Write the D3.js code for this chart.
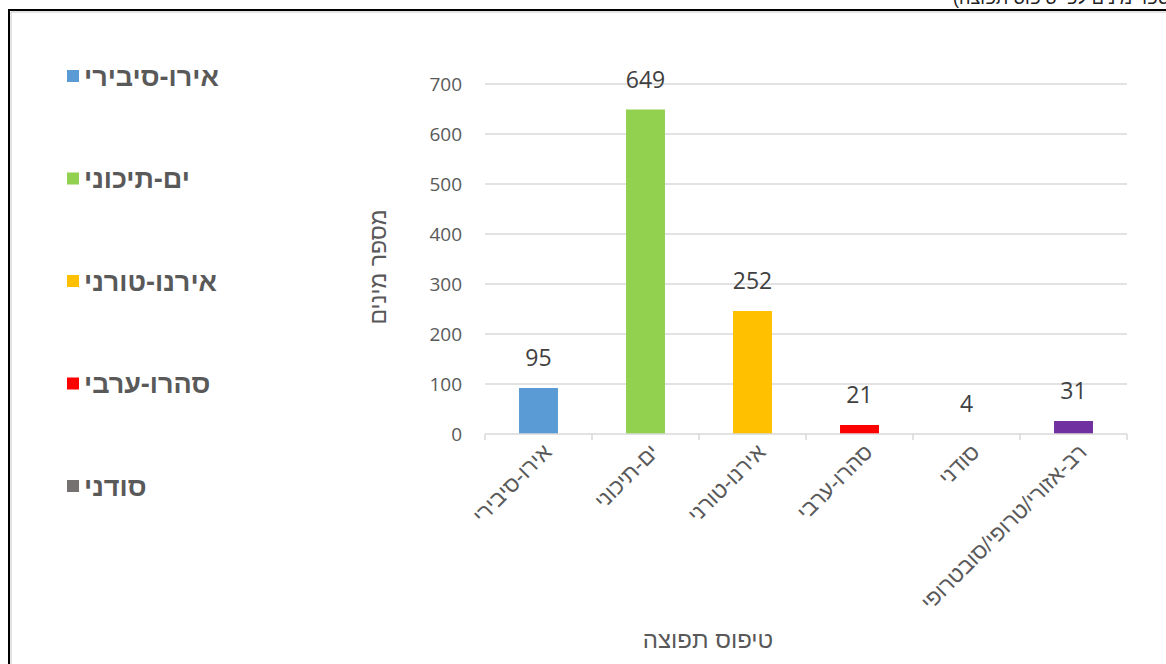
<!DOCTYPE html>
<html lang="he">
<head>
<meta charset="utf-8">
<script src="https://cdn.jsdelivr.net/npm/d3@7/dist/d3.min.js"></script>
<style>
  html, body { margin: 0; padding: 0; background: #fff; overflow: hidden; }
  svg { display: block; }
</style>
</head>
<body>
<svg id="chart" width="1166" height="664"></svg>
<script>
// ---- data ----
const categories = ["אירו-סיבירי", "ים-תיכוני", "אירנו-טורני", "סהרו-ערבי", "סודני", "רב-אזורי/טרופי/סובטרופי"];
const barValues = [92, 649, 246, 18, 0, 26];
const labelValues = [95, 649, 252, 21, 4, 31];
const colors = ["#5B9BD5", "#92D050", "#FFC000", "#FF0000", "#767171", "#7030A0"];
const yTicks = [0, 100, 200, 300, 400, 500, 600, 700];
const legendItems = categories.slice(0, 5);
const yTitle = "מספר מינים";
const xTitle = "טיפוס תפוצה";
const topNote = "(מספר מינים לפי טיפוס תפוצה)";

// ---- drawing ----
const svg = d3.select("#chart");
const numFont = "'Open Sans', 'Liberation Sans', sans-serif";
const hebFont = "'Liberation Sans', 'DejaVu Sans', sans-serif";
const grey = "#595959";

svg.append("rect").attr("width", 1166).attr("height", 664).attr("fill", "#fff");

// clipped note above the frame (only its lower edge is visible, as in the source)
svg.append("text").attr("x", 953).attr("y", 4)
  .attr("font-family", hebFont).attr("font-size", 18).attr("fill", "#222")
  .text(topNote);

// frame
svg.append("path").attr("d", "M11,670 L11,12 L1172,12")
  .attr("fill", "none").attr("stroke", "#c8c8c8").attr("stroke-width", 1);
svg.append("path").attr("d", "M9,670 L9,10 L1172,10")
  .attr("fill", "none").attr("stroke", "#000").attr("stroke-width", 2);

const x = d3.scaleBand().domain(categories).range([485, 1127])
  .paddingInner(0.636).paddingOuter(0.318);
const y = d3.scaleLinear().domain([0, 700]).range([434, 84]);

// gridlines
svg.append("g").selectAll("line").data(yTicks.filter(d => d > 0)).join("line")
  .attr("x1", 485).attr("x2", 1127)
  .attr("y1", d => y(d)).attr("y2", d => y(d))
  .attr("stroke", "#d9d9d9").attr("stroke-width", 1.5);

// y tick labels
svg.append("g").selectAll("text").data(yTicks).join("text")
  .attr("x", 462).attr("y", d => y(d)).attr("dy", "0.36em")
  .attr("text-anchor", "end")
  .attr("font-family", numFont).attr("font-size", 19).attr("fill", grey)
  .text(d => d);

// bars
svg.append("g").selectAll("rect").data(categories).join("rect")
  .attr("x", d => x(d)).attr("width", x.bandwidth())
  .attr("y", (d, i) => y(barValues[i]))
  .attr("height", (d, i) => y(0) - y(barValues[i]))
  .attr("fill", (d, i) => colors[i]);

// x axis line + ticks
const step = x.step();
const boundaries = d3.range(categories.length + 1).map(i => 485 + i * step);
svg.append("line").attr("x1", 485).attr("x2", 1127).attr("y1", y(0)).attr("y2", y(0))
  .attr("stroke", "#d9d9d9").attr("stroke-width", 1.5);
svg.append("g").selectAll("line").data(boundaries).join("line")
  .attr("x1", d => d).attr("x2", d => d).attr("y1", y(0)).attr("y2", y(0) + 6)
  .attr("stroke", "#d9d9d9").attr("stroke-width", 1.5);

// data labels
svg.append("g").selectAll("text").data(categories).join("text")
  .attr("x", d => x(d) + x.bandwidth() / 2)
  .attr("y", (d, i) => y(barValues[i]) - 22)
  .attr("text-anchor", "middle")
  .attr("font-family", numFont).attr("font-size", 23).attr("fill", "#404040")
  .text((d, i) => labelValues[i]);

// x category labels (rotated)
svg.append("g").selectAll("text").data(categories).join("text")
  .attr("transform", d => `translate(${x(d) + x.bandwidth() / 2 + 9},${y(0) + 14}) rotate(-45)`)
  .attr("text-anchor", "end").attr("dy", "0.35em")
  .attr("font-family", hebFont).attr("font-size", 22).attr("fill", grey)
  .text(d => d);

// axis titles
svg.append("text")
  .attr("transform", "translate(378,267) rotate(-90)")
  .attr("text-anchor", "middle").attr("dy", "0.35em")
  .attr("font-family", hebFont).attr("font-size", 23).attr("fill", grey)
  .text(yTitle);
svg.append("text").attr("x", 708).attr("y", 640).attr("dy", "0.35em")
  .attr("text-anchor", "middle")
  .attr("font-family", hebFont).attr("font-size", 24).attr("fill", grey)
  .text(xTitle);

// legend
const legend = svg.append("g").selectAll("g").data(legendItems).join("g")
  .attr("transform", (d, i) => `translate(67,${76 + i * 102.5})`);
legend.append("rect").attr("x", 0).attr("y", -6).attr("width", 12).attr("height", 12)
  .attr("fill", (d, i) => colors[i]);
legend.append("text").attr("x", 17).attr("y", 0).attr("dy", "0.36em")
  .attr("font-family", hebFont).attr("font-size", 27).attr("font-weight", "bold")
  .attr("fill", grey)
  .text(d => d);
</script>
</body>
</html>
